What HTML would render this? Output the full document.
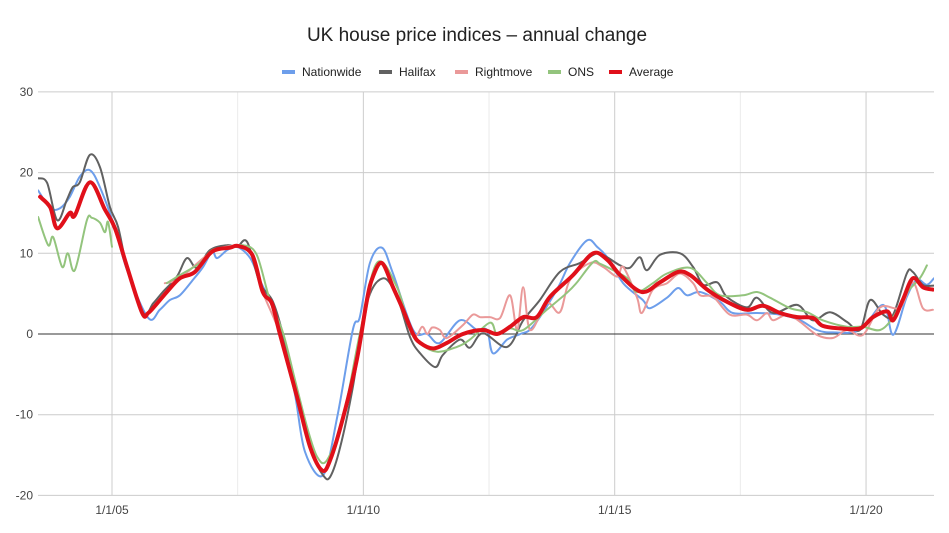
<!DOCTYPE html>
<html><head><meta charset="utf-8">
<style>
html,body{margin:0;padding:0;background:#fff;}
svg{display:block;font-family:"Liberation Sans",Arial,sans-serif;}
</style></head>
<body>
<svg id="chart" width="949" height="533" viewBox="0 0 949 533">
<text x="477" y="41" text-anchor="middle" font-size="19" fill="#222">UK house price indices – annual change</text>
<g id="grid"></g>
<g id="series"></g>
<g id="legend"></g>
</svg>
<script>
const yTicks=[30,20,10,0,-10,-20];
const xMajorYears=[2005,2010,2015,2020];
const xTickLabels=["1/1/05","1/1/10","1/1/15","1/1/20"];
const xMinorYears=[2007.5,2012.5,2017.5];
const seriesNames=["Nationwide","Halifax","Rightmove","ONS","Average"];

const nwDates=[2003.53,2003.77,2003.97,2004.16,2004.36,2004.56,2004.76,2005.06,2005.30,2005.72,2005.95,2006.15,2006.35,2006.61,2006.81,2006.99,2007.09,2007.29,2007.49,2007.75,2007.94,2008.18,2008.38,2008.64,2008.84,2009.20,2009.48,2009.79,2009.93,2010.13,2010.37,2010.59,2010.99,2011.27,2011.52,2011.92,2012.26,2012.46,2012.58,2012.86,2013.12,2013.37,2013.85,2014.11,2014.45,2014.65,2014.85,2015.17,2015.56,2015.70,2016.04,2016.26,2016.44,2016.70,2017.09,2017.35,2017.83,2018.29,2018.69,2019.02,2019.34,2019.88,2020.34,2020.54,2020.81,2021.01,2021.21,2021.35];
const nwValues=[17.8,15.6,15.6,17,19.5,20.3,18.2,13.1,7.9,2,3,4.2,4.8,6.7,8.3,10.2,9.4,10.4,10.8,9.4,6.7,3.5,-0.5,-7.5,-14.6,-17.5,-10.3,0.5,2.1,8.8,10.7,7.5,0.5,0,-1.1,1.7,0.5,0.5,-2.4,-0.7,0,0.9,5.5,8.8,11.6,10.8,9.5,6.3,4.2,3.2,4.5,5.7,4.8,5.2,4,2.6,2.6,2.4,1.7,0.5,0.2,0.5,3.6,-0.1,4.6,6.7,6.1,6.9];

const hxDates=[2003.53,2003.71,2003.91,2004.10,2004.22,2004.36,2004.56,2004.76,2004.96,2005.12,2005.30,2005.62,2005.82,2006.01,2006.29,2006.49,2006.69,2006.95,2007.29,2007.49,2007.69,2007.94,2008.20,2008.44,2008.74,2009.00,2009.20,2009.34,2009.54,2009.79,2010.07,2010.39,2010.67,2010.93,2011.13,2011.43,2011.58,2011.92,2012.12,2012.38,2012.86,2013.18,2013.51,2013.91,2014.31,2014.65,2014.85,2015.11,2015.30,2015.50,2015.64,2015.90,2016.30,2016.56,2016.76,2017.04,2017.23,2017.63,2017.83,2018.15,2018.63,2018.94,2019.28,2019.62,2019.88,2020.08,2020.34,2020.54,2020.81,2020.93,2021.13,2021.35];
const hxValues=[19.3,18.7,14.1,16.6,18.2,18.8,22.2,20.7,15.7,13.3,8.3,2.6,3.8,5.2,7.1,9.4,8.2,10.4,11,10.8,11.4,6.3,4,-1,-9,-15,-17.5,-17.7,-14,-6.6,3.8,6.9,4.6,-0.4,-2.4,-4.1,-2.6,-0.7,-1.7,0.1,-1.6,1.7,4.2,7.7,8.8,10,9.5,8.5,8.2,9.5,7.9,9.8,10,8.3,6.1,6.4,4.6,3.3,4.5,2.6,3.6,1.7,2.7,1.5,0.5,4.2,2.4,2.4,7.5,7.7,6.1,6];

const rmDates=[2006.05,2006.35,2006.99,2007.51,2007.79,2008.00,2008.34,2008.68,2008.94,2009.18,2009.34,2009.60,2009.87,2010.19,2010.37,2010.59,2010.99,2011.17,2011.27,2011.37,2011.52,2011.66,2011.98,2012.18,2012.32,2012.52,2012.72,2012.92,2013.06,2013.18,2013.32,2013.65,2013.91,2014.11,2014.51,2014.77,2015.05,2015.17,2015.44,2015.54,2015.76,2016.04,2016.30,2016.56,2016.70,2016.96,2017.29,2017.63,2017.83,2018.03,2018.15,2018.43,2018.69,2019.02,2019.34,2019.62,2019.94,2020.28,2020.68,2020.93,2021.13,2021.33];
const rmValues=[6.3,6.9,10.2,10.9,9.8,5.2,0,-7.8,-14,-16.9,-15.6,-10.3,-3.2,7.1,8.8,5.8,0,0.9,0,0.8,0.5,-0.5,1.1,2.4,2.1,2.1,2,4.8,0.5,5.8,0.5,3.8,2.7,6.7,8.8,8.3,7.1,8.3,4.6,2.6,5.5,6.3,7.5,6.3,4.8,4.6,2.4,2.4,1.7,2.6,1.7,2.4,1.5,-0.1,-0.5,0.5,-0.1,3.3,3.3,6.4,3.2,3];

const onsDates=[2003.53,2003.73,2003.83,2004.01,2004.12,2004.26,2004.50,2004.60,2004.76,2004.86,2004.92,2005.00,null,2006.09,2006.35,2006.75,2006.99,2007.29,2007.61,2007.88,2008.14,2008.40,2008.64,2008.88,2009.08,2009.28,2009.60,2009.93,2010.27,2010.67,2010.93,2011.13,2011.47,2011.86,2012.12,2012.52,2012.66,2012.92,2013.18,2013.65,2014.05,2014.25,2014.57,2014.71,2014.97,2015.25,2015.44,2015.76,2016.04,2016.50,2016.84,2017.09,2017.55,2017.83,2018.09,2018.49,2018.83,2019.14,2019.62,2019.94,2020.28,2020.54,2020.81,2021.07,2021.21];
const onsValues=[14.5,11,12,8.3,10,7.9,14.1,14.4,13.8,12.6,13.9,10.8,null,6.3,7.3,8.8,10.4,10.7,11,9.8,4.2,0.2,-5.7,-11.5,-15.2,-15.6,-10.3,0,8.8,5.8,0.5,-1.2,-2.2,-1.6,-0.7,1.4,0,0.7,0.5,3,5.1,6.4,8.9,8.7,7.9,6.9,5.2,6.3,7.5,8.2,6.3,4.8,4.8,5.2,4.5,3.2,2.7,1.7,0.9,0.9,0.5,2.1,5.1,6.9,8.5];

const avgDates=[2003.57,2003.77,2003.91,2004.16,2004.26,2004.56,2004.86,2005.06,2005.30,2005.60,2005.72,2005.90,2006.09,2006.35,2006.65,2006.99,2007.35,2007.51,2007.79,2008.00,2008.18,2008.34,2008.68,2008.94,2009.18,2009.34,2009.60,2009.87,2010.07,2010.19,2010.37,2010.59,2010.79,2010.99,2011.13,2011.39,2011.66,2011.98,2012.38,2012.66,2012.92,2013.18,2013.45,2013.71,2014.17,2014.57,2014.85,2015.11,2015.54,2015.90,2016.26,2016.50,2016.84,2017.23,2017.63,2017.95,2018.29,2018.63,2018.94,2019.14,2019.48,2019.88,2020.14,2020.42,2020.54,2020.73,2020.93,2021.13,2021.33];
const avgValues=[17,15.7,13.1,15,14.7,18.8,15.4,13.1,8.3,2.6,2.6,3.8,5.2,6.9,7.7,10.2,10.7,10.9,9.8,5.2,3.8,0,-7.8,-14,-16.9,-15.6,-10.3,-3.2,4.2,7.1,8.8,5.8,3,0,-1.1,-1.8,-1.1,0,0.5,0,0.9,2.1,2.1,4.6,7.3,10,9.2,7.3,5.2,6.4,7.7,7.3,5.5,4,3,3.5,2.6,2.1,2,1,0.7,0.7,2.1,2.8,1.7,4.2,6.9,5.8,5.5];

const X0=38,X1=934;
function xs(t){return 112+(t-2005)*50.27;}
function ys(v){return 334-v*8.07;}
const NS="http://www.w3.org/2000/svg";
function mk(tag,attrs,parent){const e=document.createElementNS(NS,tag);for(const k in attrs)e.setAttribute(k,attrs[k]);parent.appendChild(e);return e;}
const grid=document.getElementById('grid');
xMinorYears.forEach(t=>{
  const l=mk('line',{x1:xs(t),x2:xs(t),y1:92,y2:495,stroke:'#ebebeb','stroke-width':1},grid);
  
  
});
xMajorYears.forEach((t,i)=>{
  const l=mk('line',{x1:xs(t),x2:xs(t),y1:92,y2:495,stroke:'#cccccc','stroke-width':1},grid);
  
  
  const tx=mk('text',{x:xs(t),y:514,'text-anchor':'middle','font-size':12,fill:'#444'},grid);
  tx.textContent=xTickLabels[i];
  
  
});
yTicks.forEach(v=>{
  const l=mk('line',{x1:X0,x2:X1,y1:ys(v),y2:ys(v),stroke:v===0?'#333':'#cccccc','stroke-width':1},grid);
  
  
  const tx=mk('text',{x:33,y:ys(v)+4,'text-anchor':'end','font-size':12,fill:'#444'},grid);
  tx.textContent=v;
  
  
});
function pathFor(dates,vals){
  let d='',segs=[],cur=[];
  dates.forEach((t,i)=>{if(t===null||vals[i]===null){if(cur.length)segs.push(cur);cur=[];}else cur.push([xs(t),ys(vals[i])]);});
  if(cur.length)segs.push(cur);
  segs.forEach(p=>{
    d+='M'+p[0][0].toFixed(1)+' '+p[0][1].toFixed(1);
    for(let i=0;i<p.length-1;i++){
      const p0=p[i-1]||p[i],p1=p[i],p2=p[i+1],p3=p[i+2]||p2;
      const c1=[p1[0]+(p2[0]-p0[0])/6,p1[1]+(p2[1]-p0[1])/6];
      const c2=[p2[0]-(p3[0]-p1[0])/6,p2[1]-(p3[1]-p1[1])/6];
      d+=' C'+c1[0].toFixed(1)+' '+c1[1].toFixed(1)+' '+c2[0].toFixed(1)+' '+c2[1].toFixed(1)+' '+p2[0].toFixed(1)+' '+p2[1].toFixed(1);
    }
  });
  return d;
}
const sg=document.getElementById('series');
const defs=[
 [nwDates,nwValues,'#6d9eeb',2,'nationwide-line'],
 [hxDates,hxValues,'#616161',2,'halifax-line'],
 [rmDates,rmValues,'#ea9999',2,'rightmove-line'],
 [onsDates,onsValues,'#93c47d',2,'ons-line'],
 [avgDates,avgValues,'#e0101a',4,'average-line']
];
const clip=mk('clipPath',{id:'pc'},sg);
mk('rect',{x:X0,y:85,width:X1-X0,height:420},clip);
defs.forEach(s=>{
  const p=mk('path',{d:pathFor(s[0],s[1]),fill:'none',stroke:s[2],'stroke-width':s[3],'stroke-linejoin':'round','stroke-linecap':'round','clip-path':'url(#pc)'},sg);
  
  
});
const lg=document.getElementById('legend');
const legX=[282,379,455,548,609];
defs.forEach((s,i)=>{
  const g=mk('g',{},lg);
  
  
  mk('rect',{x:legX[i],y:70,width:13,height:4,fill:s[2]},g);
  const t=mk('text',{x:legX[i]+20,y:76,'font-size':12,fill:'#222'},g);
  t.textContent=seriesNames[i];
});
</script>
</body></html>
